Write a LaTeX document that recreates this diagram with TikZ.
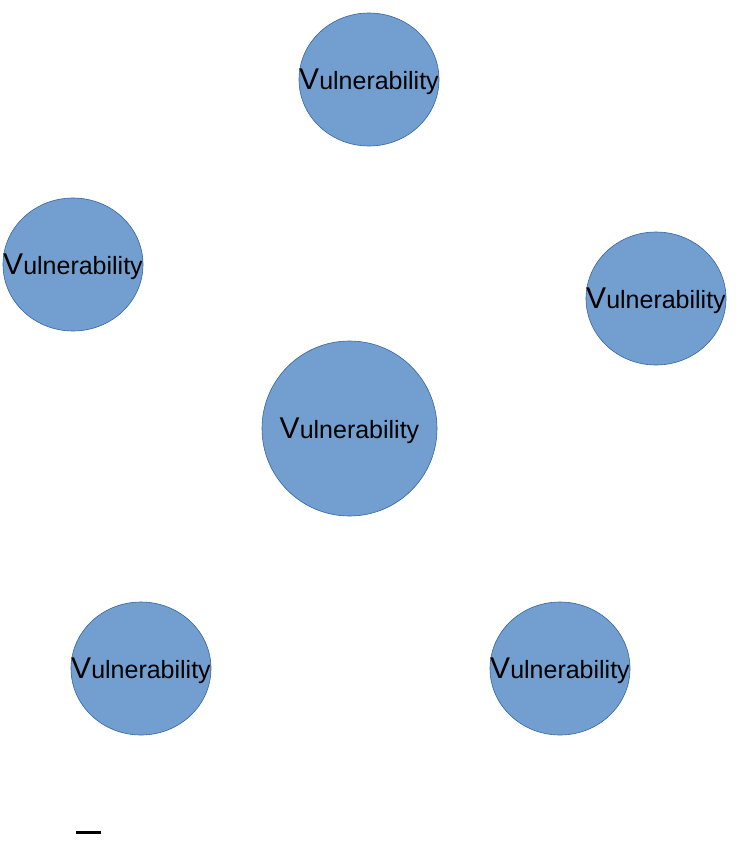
\documentclass[tikz,border=0pt]{standalone}
\usepackage{fontspec}
\setmainfont{Liberation Sans}
\usetikzlibrary{shapes.geometric}
\definecolor{blobfill}{HTML}{729FCF}
\definecolor{blobline}{HTML}{3465A4}
\tikzset{
  blob/.style={ellipse, draw=blobline, fill=blobfill, line width=0.6bp, inner sep=0pt, minimum width=140bp, minimum height=133bp},
  bigblob/.style={blob, minimum width=175bp, minimum height=175bp},
  vlabel/.style={inner sep=0pt, text=black}
}
\newcommand{\vuln}{{\fontsize{30bp}{30bp}\selectfont V}{\fontsize{25bp}{25bp}\selectfont ulnerability}}
\begin{document}
\begin{tikzpicture}[x=1bp,y=-1bp]
\useasboundingbox (0,0) rectangle (739,866);
\node[blob] (n1) at (369,79.5) {};
\node[blob] (n2) at (73,264.5) {};
\node[blob] (n3) at (656,298.5) {};
\node[bigblob] (n4) at (349.5,428.5) {};
\node[blob] (n5) at (141,668.5) {};
\node[blob] (n6) at (560,668.5) {};
\foreach \n in {n1,n2,n3,n4,n5,n6} \node[vlabel, yshift=-2bp] (\n t) at (\n) {\vuln};
\coordinate (d1) at (76,832);
\coordinate (d2) at (101,832);
\draw[line width=3bp] (d1) -- (d2);
\end{tikzpicture}
\end{document}
